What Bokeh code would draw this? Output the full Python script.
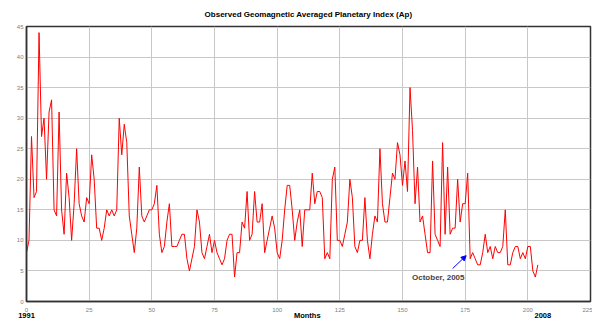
from bokeh.plotting import figure
from bokeh.models import (Range1d, FixedTicker, Label, Arrow, NormalHead,
                          ColumnDataSource, LinearAxis)
from bokeh.embed import file_html
from bokeh.resources import INLINE

# ---------------- data ----------------
months = list(range(205))
ap = [8, 10, 27, 17, 18, 44, 27, 30, 20, 31,
      33, 15, 14, 31, 15, 11, 21, 17, 10, 16,
      25, 16, 14, 13, 17, 16, 24, 20, 12, 12,
      10, 12, 15, 14, 15, 14, 15, 30, 24, 29,
      26, 14, 11, 8, 12, 22, 14, 13, 14, 15,
      15, 16, 19, 11, 8, 9, 13, 16, 9, 9,
      9, 10, 11, 11, 7, 5, 7, 9, 15, 13,
      8, 7, 9, 11, 8, 10, 8, 7, 6, 7,
      10, 11, 11, 4, 8, 8, 13, 12, 18, 10,
      11, 18, 13, 13, 16, 8, 10, 12, 14, 12,
      8, 7, 10, 15, 19, 19, 15, 10, 13, 15,
      9, 15, 15, 15, 21, 16, 18, 18, 17, 7,
      8, 7, 20, 22, 10, 10, 9, 11, 13, 20,
      17, 9, 8, 10, 10, 17, 10, 7, 11, 14,
      13, 25, 16, 13, 13, 17, 21, 20, 26, 24,
      19, 23, 18, 35, 28, 16, 22, 13, 14, 11,
      8, 8, 23, 11, 10, 9, 26, 11, 22, 11,
      12, 12, 20, 13, 16, 16, 21, 7, 8, 7,
      6, 6, 8, 11, 8, 9, 7, 9, 8, 8,
      9, 15, 6, 6, 8, 9, 9, 7, 8, 7,
      9, 9, 5, 4, 6]
x_ticks = [0, 25, 50, 75, 100, 125, 150, 175, 200, 225]
y_ticks = [0, 5, 10, 15, 20, 25, 30, 35, 40, 45]
title_text = "Observed Geomagnetic Averaged Planetary Index (Ap)"
bottom_ticks = [0, 112, 206]
bottom_texts = ["1991", "Months", "2008"]
note_text = "October, 2005"

FONT = "Liberation Sans"

p = figure(width=592, height=322, output_backend="svg", toolbar_location=None,
           x_range=Range1d(0, 225), y_range=Range1d(0, 45),
           min_border_left=26, min_border_right=2,
           min_border_top=26, min_border_bottom=20,
           title=title_text)

p.title.text_font = FONT
p.title.text_font_size = "8px"
p.title.text_font_style = "bold"
p.title.align = "center"
p.title.standoff = 15
p.title.text_color = "#000000"

p.background_fill_color = "white"
p.border_fill_color = "white"
p.outline_line_color = "#333333"
p.outline_line_width = 1.5

for ax in (p.xaxis[0], p.yaxis[0]):
    ax.axis_line_color = "#333333"
    ax.axis_line_width = 1.5
    ax.major_tick_line_color = None
    ax.minor_tick_line_color = None
    ax.major_tick_out = 0
    ax.major_tick_in = 0
    ax.major_label_text_font = FONT
    ax.major_label_text_font_size = "6px"
    ax.major_label_text_color = "#808080"
p.xaxis[0].major_label_standoff = 6
p.yaxis[0].major_label_standoff = 3

p.xaxis.ticker = FixedTicker(ticks=x_ticks)
p.yaxis.ticker = FixedTicker(ticks=y_ticks)
p.xgrid.ticker = FixedTicker(ticks=x_ticks)
p.ygrid.ticker = FixedTicker(ticks=y_ticks)
p.grid.grid_line_color = "#c8c8c8"
p.grid.grid_line_width = 1

# second bottom axis carrying the year marks and the axis name
bottom_axis = LinearAxis(ticker=FixedTicker(ticks=bottom_ticks),
                         major_label_overrides={t: s for t, s in zip(bottom_ticks, bottom_texts)})
bottom_axis.axis_line_color = None
bottom_axis.major_tick_line_color = None
bottom_axis.minor_tick_line_color = None
bottom_axis.major_tick_out = 0
bottom_axis.major_tick_in = 0
bottom_axis.major_label_standoff = -4
bottom_axis.major_label_text_font = FONT
bottom_axis.major_label_text_font_size = "7.5px"
bottom_axis.major_label_text_font_style = "bold"
bottom_axis.major_label_text_color = "#000000"
p.add_layout(bottom_axis, "below")

src = ColumnDataSource(data=dict(m=months, ap=ap))
p.line("m", "ap", source=src, line_color="#ff0000", line_width=1)

p.add_layout(Label(x=153.8, y=4.0, text=note_text, text_font=FONT,
                   text_font_size="8px", text_font_style="bold",
                   text_align="left", text_baseline="middle"))
p.add_layout(Arrow(end=NormalHead(size=5, fill_color="blue", line_color="blue"),
                   x_start=170.0, y_start=5.4, x_end=175.4, y_end=7.5,
                   line_color="blue", line_width=1))

open("out.html", "w").write(file_html(p, INLINE))
